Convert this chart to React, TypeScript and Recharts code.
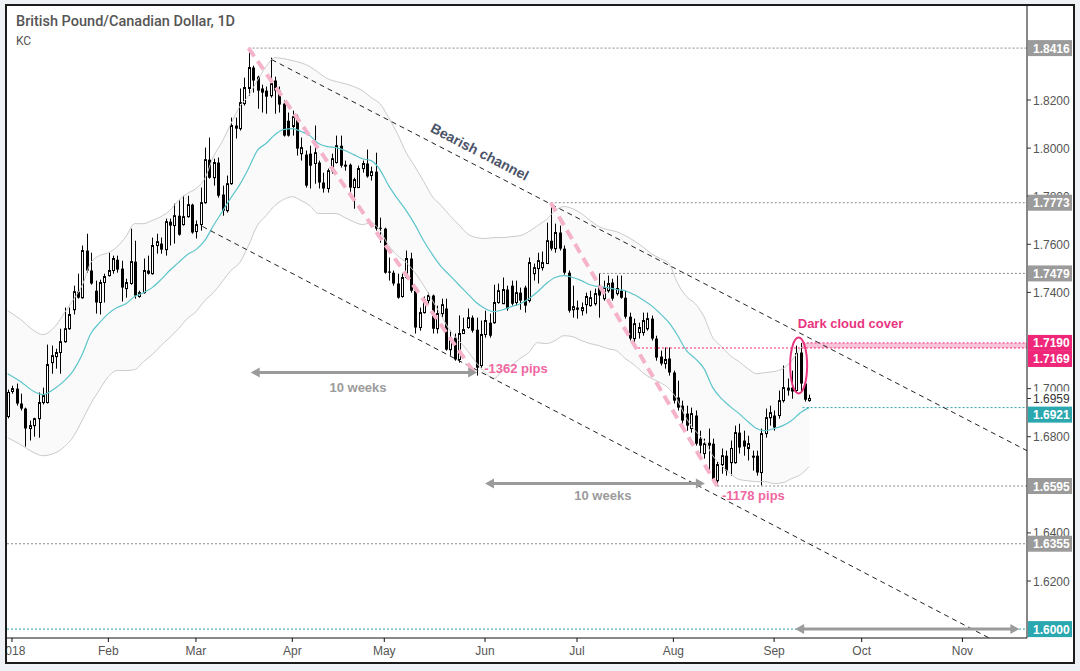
import React from 'react'
import {
  ComposedChart,
  XAxis,
  YAxis,
  Area,
  Line,
  Bar,
  ReferenceLine,
  ReferenceArea,
  ReferenceDot,
} from 'recharts'

// daily bars, first one sits just left of the Jan tick
const firstBar = -1
const ohlc = [
  [1.6884, 1.6996, 1.6876, 1.6984], [1.6988, 1.7012, 1.6979, 1.7000], [1.7000, 1.7021, 1.6929, 1.6938],
  [1.6938, 1.6979, 1.6909, 1.6917], [1.6917, 1.6921, 1.6759, 1.6834], [1.6834, 1.6867, 1.6784, 1.6846],
  [1.6846, 1.6879, 1.6800, 1.6875], [1.6875, 1.6984, 1.6796, 1.6942], [1.6942, 1.7004, 1.6934, 1.6971],
  [1.6942, 1.7183, 1.6938, 1.7100], [1.7108, 1.7179, 1.7062, 1.7137], [1.7133, 1.7166, 1.7083, 1.7150],
  [1.7150, 1.7249, 1.7062, 1.7195], [1.7195, 1.7337, 1.7191, 1.7249], [1.7249, 1.7337, 1.7245, 1.7308],
  [1.7328, 1.7428, 1.7308, 1.7403], [1.7403, 1.7478, 1.7374, 1.7378], [1.7378, 1.7595, 1.7374, 1.7574],
  [1.7574, 1.7644, 1.7482, 1.7491], [1.7491, 1.7565, 1.7432, 1.7437], [1.7407, 1.7449, 1.7312, 1.7358],
  [1.7358, 1.7453, 1.7308, 1.7441], [1.7441, 1.7478, 1.7358, 1.7466], [1.7470, 1.7565, 1.7466, 1.7491],
  [1.7491, 1.7553, 1.7478, 1.7541], [1.7536, 1.7553, 1.7482, 1.7495], [1.7499, 1.7532, 1.7362, 1.7420],
  [1.7416, 1.7457, 1.7378, 1.7441], [1.7437, 1.7665, 1.7432, 1.7528], [1.7528, 1.7615, 1.7374, 1.7387],
  [1.7383, 1.7407, 1.7378, 1.7399], [1.7399, 1.7541, 1.7395, 1.7491], [1.7491, 1.7553, 1.7474, 1.7478],
  [1.7478, 1.7628, 1.7474, 1.7595], [1.7595, 1.7644, 1.7561, 1.7611], [1.7603, 1.7628, 1.7561, 1.7578],
  [1.7578, 1.7707, 1.7553, 1.7694], [1.7694, 1.7707, 1.7595, 1.7678], [1.7678, 1.7769, 1.7603, 1.7719],
  [1.7719, 1.7782, 1.7636, 1.7640], [1.7682, 1.7802, 1.7678, 1.7715], [1.7715, 1.7802, 1.7711, 1.7765],
  [1.7765, 1.7769, 1.7644, 1.7649], [1.7653, 1.7699, 1.7624, 1.7682], [1.7682, 1.7836, 1.7657, 1.7773],
  [1.7773, 1.8002, 1.7769, 1.7952], [1.7952, 1.8044, 1.7873, 1.7877], [1.7877, 1.7956, 1.7844, 1.7940],
  [1.7940, 1.7961, 1.7794, 1.7802], [1.7807, 1.7844, 1.7719, 1.7740], [1.7740, 1.7886, 1.7732, 1.7852],
  [1.7852, 1.8127, 1.7848, 1.8094], [1.8094, 1.8127, 1.8040, 1.8081], [1.8081, 1.8248, 1.8073, 1.8189],
  [1.8185, 1.8293, 1.8177, 1.8252], [1.8248, 1.8416, 1.8218, 1.8335], [1.8335, 1.8343, 1.8231, 1.8281],
  [1.8297, 1.8301, 1.8164, 1.8239], [1.8248, 1.8264, 1.8148, 1.8231], [1.8239, 1.8256, 1.8143, 1.8214],
  [1.8218, 1.8376, 1.8210, 1.8268], [1.8281, 1.8297, 1.8143, 1.8239], [1.8239, 1.8256, 1.8148, 1.8181],
  [1.8185, 1.8198, 1.8048, 1.8052], [1.8114, 1.8148, 1.8048, 1.8052], [1.8090, 1.8156, 1.8052, 1.8131],
  [1.8131, 1.8139, 1.7969, 1.7998], [1.7977, 1.8044, 1.7948, 1.8002], [1.7973, 1.7990, 1.7836, 1.7844],
  [1.7977, 1.8010, 1.7832, 1.7927], [1.7936, 1.8094, 1.7852, 1.7981], [1.7940, 1.7948, 1.7832, 1.7857],
  [1.7857, 1.7898, 1.7815, 1.7832], [1.7832, 1.7915, 1.7815, 1.7906], [1.7906, 1.7977, 1.7894, 1.7956],
  [1.7940, 1.8052, 1.7936, 1.8010], [1.8010, 1.8052, 1.7919, 1.7927], [1.7931, 1.7948, 1.7906, 1.7923],
  [1.7931, 1.7936, 1.7815, 1.7836], [1.7836, 1.7877, 1.7748, 1.7869], [1.7836, 1.7927, 1.7836, 1.7915],
  [1.7915, 1.7948, 1.7898, 1.7936], [1.7936, 1.7994, 1.7877, 1.7882], [1.7886, 1.7923, 1.7865, 1.7902],
  [1.7902, 1.7981, 1.7657, 1.7665], [1.7669, 1.7711, 1.7607, 1.7665], [1.7665, 1.7669, 1.7478, 1.7482],
  [1.7487, 1.7545, 1.7449, 1.7482], [1.7482, 1.7491, 1.7428, 1.7437], [1.7437, 1.7478, 1.7374, 1.7378],
  [1.7383, 1.7478, 1.7378, 1.7462], [1.7462, 1.7574, 1.7457, 1.7541], [1.7541, 1.7565, 1.7399, 1.7407],
  [1.7407, 1.7416, 1.7229, 1.7254], [1.7254, 1.7337, 1.7241, 1.7316], [1.7316, 1.7383, 1.7312, 1.7370],
  [1.7366, 1.7399, 1.7353, 1.7387], [1.7387, 1.7391, 1.7229, 1.7249], [1.7249, 1.7345, 1.7229, 1.7312],
  [1.7312, 1.7374, 1.7295, 1.7349], [1.7333, 1.7374, 1.7158, 1.7162], [1.7162, 1.7241, 1.7137, 1.7212],
  [1.7212, 1.7229, 1.7116, 1.7121], [1.7121, 1.7304, 1.7108, 1.7229], [1.7229, 1.7295, 1.7229, 1.7245],
  [1.7254, 1.7333, 1.7249, 1.7295], [1.7295, 1.7304, 1.7233, 1.7241], [1.7245, 1.7295, 1.7054, 1.7087],
  [1.7096, 1.7283, 1.7087, 1.7225], [1.7225, 1.7324, 1.7212, 1.7283], [1.7274, 1.7312, 1.7212, 1.7220],
  [1.7274, 1.7432, 1.7270, 1.7358], [1.7358, 1.7437, 1.7353, 1.7407], [1.7353, 1.7462, 1.7353, 1.7412],
  [1.7412, 1.7428, 1.7324, 1.7333], [1.7428, 1.7449, 1.7345, 1.7353], [1.7358, 1.7449, 1.7345, 1.7399],
  [1.7399, 1.7420, 1.7328, 1.7366], [1.7420, 1.7428, 1.7316, 1.7345], [1.7366, 1.7545, 1.7358, 1.7524],
  [1.7478, 1.7520, 1.7449, 1.7503], [1.7499, 1.7565, 1.7437, 1.7532], [1.7503, 1.7570, 1.7491, 1.7524],
  [1.7520, 1.7690, 1.7520, 1.7615], [1.7615, 1.7773, 1.7574, 1.7582], [1.7582, 1.7686, 1.7565, 1.7649],
  [1.7649, 1.7678, 1.7574, 1.7582], [1.7582, 1.7595, 1.7474, 1.7482], [1.7482, 1.7491, 1.7316, 1.7324],
  [1.7328, 1.7428, 1.7295, 1.7341], [1.7337, 1.7366, 1.7291, 1.7328], [1.7324, 1.7358, 1.7304, 1.7337],
  [1.7349, 1.7399, 1.7312, 1.7383], [1.7345, 1.7407, 1.7341, 1.7378], [1.7353, 1.7416, 1.7345, 1.7395],
  [1.7428, 1.7479, 1.7295, 1.7387], [1.7374, 1.7449, 1.7366, 1.7420], [1.7407, 1.7470, 1.7399, 1.7437],
  [1.7441, 1.7457, 1.7366, 1.7374], [1.7395, 1.7470, 1.7387, 1.7416], [1.7407, 1.7470, 1.7374, 1.7378],
  [1.7378, 1.7407, 1.7291, 1.7299], [1.7299, 1.7316, 1.7200, 1.7208], [1.7208, 1.7291, 1.7169, 1.7270],
  [1.7233, 1.7274, 1.7208, 1.7254], [1.7233, 1.7316, 1.7220, 1.7283], [1.7249, 1.7316, 1.7241, 1.7291],
  [1.7291, 1.7304, 1.7200, 1.7208], [1.7208, 1.7220, 1.7116, 1.7129], [1.7133, 1.7158, 1.7096, 1.7104],
  [1.7104, 1.7171, 1.7083, 1.7121], [1.7125, 1.7171, 1.7054, 1.7067], [1.7067, 1.7075, 1.6938, 1.6950],
  [1.6963, 1.7033, 1.6909, 1.6921], [1.6929, 1.6950, 1.6834, 1.6867], [1.6896, 1.6929, 1.6825, 1.6846],
  [1.6834, 1.6921, 1.6817, 1.6896], [1.6888, 1.6909, 1.6763, 1.6771], [1.6792, 1.6825, 1.6730, 1.6763],
  [1.6730, 1.6792, 1.6709, 1.6771], [1.6775, 1.6834, 1.6659, 1.6763], [1.6771, 1.6792, 1.6609, 1.6617],
  [1.6617, 1.6696, 1.6595, 1.6684], [1.6684, 1.6751, 1.6646, 1.6721], [1.6721, 1.6742, 1.6638, 1.6659],
  [1.6692, 1.6784, 1.6638, 1.6751], [1.6692, 1.6846, 1.6688, 1.6817], [1.6817, 1.6854, 1.6730, 1.6755],
  [1.6784, 1.6825, 1.6721, 1.6759], [1.6751, 1.6804, 1.6701, 1.6771], [1.6721, 1.6742, 1.6659, 1.6713],
  [1.6721, 1.6742, 1.6638, 1.6651], [1.6651, 1.6834, 1.6597, 1.6813], [1.6813, 1.6917, 1.6796, 1.6879],
  [1.6879, 1.6929, 1.6846, 1.6900], [1.6888, 1.6909, 1.6825, 1.6838], [1.6888, 1.6992, 1.6875, 1.6950],
  [1.6950, 1.7096, 1.6942, 1.7004], [1.7004, 1.7042, 1.6971, 1.6992], [1.7004, 1.7075, 1.6958, 1.6988],
  [1.6992, 1.7179, 1.6984, 1.7146], [1.7150, 1.7190, 1.6984, 1.7021], [1.7021, 1.7029, 1.6946, 1.6954],
  [1.6950, 1.6975, 1.6946, 1.6959],
]

// Keltner channel, read every couple of bars
const kcBar = [
  -1, 2, 5, 7, 10, 12, 14, 16, 18, 20, 22, 24, 26, 28, 30, 32, 34, 36, 38, 40, 42, 44, 46, 48, 50, 52, 54, 56,
  58, 60, 62, 64, 66, 68, 70, 72, 74, 76, 78, 80, 82, 84, 86, 88, 90, 92, 94, 96, 98, 100, 102, 104, 106, 108,
  110, 112, 114, 116, 118, 120, 122, 124, 126, 128, 130, 132, 134, 136, 138, 140, 142, 144, 146, 148, 150, 152,
  154, 156, 158, 160, 162, 164, 166, 168, 170, 172, 174, 176, 178, 180, 182,
]
const kcUpper = [
  1.7324, 1.7287, 1.7241, 1.7225, 1.7262, 1.7316, 1.7370, 1.7428, 1.7524, 1.7553, 1.7565, 1.7590, 1.7632,
  1.7686, 1.7686, 1.7699, 1.7715, 1.7740, 1.7782, 1.7811, 1.7832, 1.7873, 1.7965, 1.8027, 1.8102, 1.8173,
  1.8218, 1.8281, 1.8339, 1.8376, 1.8372, 1.8364, 1.8355, 1.8339, 1.8314, 1.8289, 1.8277, 1.8268, 1.8256,
  1.8239, 1.8210, 1.8185, 1.8127, 1.8060, 1.7981, 1.7923, 1.7861, 1.7798, 1.7761, 1.7719, 1.7682, 1.7644,
  1.7628, 1.7624, 1.7628, 1.7628, 1.7632, 1.7636, 1.7653, 1.7678, 1.7703, 1.7740, 1.7757, 1.7748, 1.7728,
  1.7699, 1.7674, 1.7661, 1.7653, 1.7636, 1.7615, 1.7590, 1.7561, 1.7541, 1.7520, 1.7437, 1.7383, 1.7353,
  1.7299, 1.7212, 1.7175, 1.7137, 1.7112, 1.7083, 1.7062, 1.7067, 1.7071, 1.7083, 1.7116, 1.7166, 1.7191,
]
const kcMid = [
  1.7062, 1.7029, 1.6988, 1.6975, 1.7004, 1.7033, 1.7075, 1.7141, 1.7229, 1.7274, 1.7312, 1.7337, 1.7353,
  1.7383, 1.7399, 1.7420, 1.7453, 1.7491, 1.7524, 1.7557, 1.7578, 1.7615, 1.7678, 1.7736, 1.7794, 1.7848,
  1.7915, 1.7990, 1.8019, 1.8056, 1.8077, 1.8081, 1.8069, 1.8052, 1.8019, 1.8006, 1.8002, 1.7990, 1.7973,
  1.7956, 1.7948, 1.7911, 1.7844, 1.7790, 1.7740, 1.7682, 1.7615, 1.7557, 1.7507, 1.7470, 1.7432, 1.7395,
  1.7358, 1.7333, 1.7320, 1.7328, 1.7341, 1.7353, 1.7374, 1.7403, 1.7437, 1.7462, 1.7470, 1.7462, 1.7449,
  1.7432, 1.7424, 1.7420, 1.7412, 1.7407, 1.7391, 1.7370, 1.7345, 1.7312, 1.7274, 1.7220, 1.7158, 1.7125,
  1.7083, 1.7004, 1.6958, 1.6925, 1.6896, 1.6863, 1.6834, 1.6825, 1.6834, 1.6846, 1.6867, 1.6900, 1.6921,
]
const kcLower = [
  1.6796, 1.6767, 1.6734, 1.6721, 1.6734, 1.6759, 1.6800, 1.6867, 1.6938, 1.6996, 1.7050, 1.7075, 1.7075,
  1.7079, 1.7112, 1.7141, 1.7179, 1.7212, 1.7249, 1.7291, 1.7320, 1.7366, 1.7399, 1.7445, 1.7491, 1.7524,
  1.7595, 1.7678, 1.7719, 1.7761, 1.7786, 1.7798, 1.7782, 1.7761, 1.7728, 1.7728, 1.7728, 1.7711, 1.7694,
  1.7682, 1.7690, 1.7657, 1.7595, 1.7553, 1.7524, 1.7482, 1.7428, 1.7366, 1.7304, 1.7241, 1.7200, 1.7158,
  1.7108, 1.7067, 1.7042, 1.7075, 1.7096, 1.7125, 1.7150, 1.7191, 1.7187, 1.7200, 1.7220, 1.7216, 1.7200,
  1.7187, 1.7179, 1.7166, 1.7158, 1.7125, 1.7100, 1.7067, 1.7042, 1.7025, 1.7000, 1.6950, 1.6875, 1.6825,
  1.6784, 1.6721, 1.6680, 1.6647, 1.6622, 1.6617, 1.6613, 1.6613, 1.6605, 1.6609, 1.6626, 1.6642, 1.6676,
]

const monthTicks = [0, 22, 42, 64, 85, 108, 129, 151, 174, 194, 217]
const monthLabels = ['2018', 'Feb', 'Mar', 'Apr', 'May', 'Jun', 'Jul', 'Aug', 'Sep', 'Oct', 'Nov']

// 1.84, 1.72 and 1.66 sit fully under the level badges, so they are left out
const priceTicks = [1.62, 1.64, 1.68, 1.7, 1.74, 1.76, 1.78, 1.8, 1.82]
const lastPrice = 1.6959
// [from bar, price]
const grayLevels = [[54, 1.8416], [123, 1.7773], [134, 1.7479], [161, 1.6595], [-1.14, 1.6355]]
const pinkLevels = [[180.5, 1.719], [142, 1.7169]]
const tealLevels = [[180.5, 1.6921], [-1.14, 1.6]]

const channelUpper = [[59.3, 1.8368], [231.74, 1.6742]]
const channelLower = [[43.5, 1.7674], [223.1, 1.5963]]
const moveLines = [
  [[54, 1.8416], [106, 1.7054]],
  [[123, 1.7773], [161, 1.6595]],
]
const moveLabels = [[107.8, 1.7083, '-1362 pips'], [162.1, 1.6555, '-1178 pips']]
// [from bar, to bar, price]
const spanArrows = [[54.5, 106.2, 1.7067], [108, 158.2, 1.6605], [178.8, 230, 1.6]]
const spanLabels = [[79, 1.7004, '10 weeks'], [134.9, 1.6555, '10 weeks']]
const patternMark = [179.6, 1.7096]
const patternLabel = [179.4, 1.727, 'Dark cloud cover']
const channelLabel = [106.8, 1.7985, 'Bearish channel']

const xDomain = [-1.14, 231.74]
const yDomain = [1.5963, 1.8591]

const AXIS_FONT = '"Liberation Sans", Arial, sans-serif'
const GRAY = '#9b9b9b'
const PINK = '#f02679'
const TEAL = '#2aa7af'

const kcIndex = new Map(kcBar.map((b, k) => [b, k]))
const rows = ohlc.map(([o, h, l, c], k) => {
  const i = firstBar + k
  const kk = kcIndex.get(i)
  const has = kk !== undefined
  return {
    i, o, h, l, c,
    range: [l, h],
    up: has ? kcUpper[kk] : null,
    mid: has ? kcMid[kk] : null,
    lo: has ? kcLower[kk] : null,
    band: has ? [kcLower[kk], kcUpper[kk]] : [null, null],
  }
})

function Candle(props: any) {
  const { x, y, width, height, payload } = props
  if (!payload || height == null) return null
  const { o, h, l, c } = payload
  const top = Math.min(y, y + height)
  const span = Math.abs(height)
  const py = (v: number) => top + ((h - v) / (h - l || 1)) * span
  const px = Math.round(x + width / 2)
  const bTop = py(Math.max(o, c))
  const bBot = py(Math.min(o, c))
  const up = c >= o
  return (
    <g>
      <line x1={px + 0.5} x2={px + 0.5} y1={top} y2={top + span} stroke="#000" strokeWidth={1} />
      {up ? (
        <rect x={px - 0.5} y={bTop} width={2} height={Math.max(bBot - bTop, 1)} fill="#fff" stroke="#000" strokeWidth={1} />
      ) : (
        <rect x={px - 1} y={bTop} width={3} height={Math.max(bBot - bTop, 1)} fill="#000" />
      )}
    </g>
  )
}

const badgeColor = (v: number) => {
  if (grayLevels.some((d) => d[1] === v)) return GRAY
  if (pinkLevels.some((d) => d[1] === v)) return PINK
  if (tealLevels.some((d) => d[1] === v)) return TEAL
  return null
}
// labels pushed down so they do not sit on top of each other
const badgeNudge: Record<string, number> = { '1.7169': 11, '1.6921': 7 }

function PriceTick(props: any) {
  const { x, y, payload } = props
  const v = payload.value
  const label = v.toFixed(4)
  const color = badgeColor(v)
  if (color) {
    const cy = y + (badgeNudge[label] || 0)
    return (
      <g>
        <rect x={x + 1} y={cy - 8} width={44} height={16} fill={color} />
        <text x={x + 6} y={cy + 4.5} fill="#fff" fontSize={12} fontWeight="bold" fontFamily={AXIS_FONT}>
          {label}
        </text>
      </g>
    )
  }
  const isLast = v === lastPrice
  return (
    <g>
      {isLast && <rect x={x + 1} y={y - 7} width={45} height={14} fill="#fff" />}
      <line x1={x} x2={x + 4} y1={y} y2={y} stroke="#333" />
      <text x={x + 6} y={y + 4.5} fill={isLast ? '#333' : '#555'} fontSize={12} fontFamily={AXIS_FONT}>
        {label}
      </text>
    </g>
  )
}

function SpanArrow(props: any) {
  const { x1, y1, x2 } = props
  const head = 9
  const half = 5
  return (
    <g>
      <line x1={x1 + head - 1} x2={x2 - head + 1} y1={y1} y2={y1} stroke={GRAY} strokeWidth={3} />
      <polygon points={`${x1},${y1} ${x1 + head},${y1 - half} ${x1 + head},${y1 + half}`} fill={GRAY} />
      <polygon points={`${x2},${y1} ${x2 - head},${y1 - half} ${x2 - head},${y1 + half}`} fill={GRAY} />
    </g>
  )
}

const textShape = (text: string, fill: string, anchor: string) => (p: any) => (
  <text
    x={p.cx}
    y={p.cy}
    fill={fill}
    fontSize={13}
    fontWeight="bold"
    fontFamily={AXIS_FONT}
    textAnchor={anchor}
    dominantBaseline="central"
  >
    {text}
  </text>
)

export default function App() {
  const slope = Math.atan2(0.517, 1) * (180 / Math.PI)
  return (
    <div style={{ position: 'absolute', left: 0, top: 0, width: 1080, height: 671, background: '#eef1f5' }}>
      <div
        style={{
          position: 'absolute',
          left: 5,
          top: 4,
          width: 1066,
          height: 656,
          border: '2px solid #1c1c1c',
          background: '#fff',
        }}
      >
        <ComposedChart width={1066} height={656} data={rows} margin={{ top: 0, right: 0, bottom: 0, left: 0 }}>
          <XAxis
            dataKey="i"
            type="number"
            domain={xDomain}
            allowDataOverflow
            ticks={monthTicks}
            interval={0}
            tickFormatter={(v) => monthLabels[monthTicks.indexOf(v)]}
            height={24}
            stroke="#111"
            tickSize={4}
            tickMargin={4}
            tick={{ fill: '#555', fontSize: 12, fontFamily: AXIS_FONT }}
          />
          <YAxis
            orientation="right"
            type="number"
            domain={yDomain}
            allowDataOverflow
            width={46}
            ticks={[...priceTicks, lastPrice, ...grayLevels.map((d) => d[1]), ...pinkLevels.map((d) => d[1]), ...tealLevels.map((d) => d[1])]}
            interval={0}
            tick={PriceTick}
            tickLine={false}
            tickSize={0}
            tickMargin={0}
            stroke="#111"
          />
          <Area
            dataKey="band"
            type="monotone"
            stroke="none"
            fill="#f4f4f4"
            fillOpacity={0.45}
            connectNulls
            isAnimationActive={false}
          />
          <Line dataKey="up" type="monotone" stroke="#cacaca" strokeWidth={1} dot={false} connectNulls isAnimationActive={false} />
          <Line dataKey="lo" type="monotone" stroke="#cacaca" strokeWidth={1} dot={false} connectNulls isAnimationActive={false} />
          <Line dataKey="mid" type="monotone" stroke="#5cc5cb" strokeWidth={1.2} dot={false} connectNulls isAnimationActive={false} />

          <ReferenceArea x1={pinkLevels[0][0]} x2={xDomain[1]} y1={pinkLevels[1][1]} y2={pinkLevels[0][1]} fill="#f9c4d9" fillOpacity={1} stroke="none" />
          {grayLevels.map(([from, v]) => (
            <ReferenceLine key={'g' + v} segment={[{ x: from, y: v }, { x: xDomain[1], y: v }]} stroke="#8a8a8a" strokeDasharray="2 2" />
          ))}
          {pinkLevels.map(([from, v]) => (
            <ReferenceLine key={'p' + v} segment={[{ x: from, y: v }, { x: xDomain[1], y: v }]} stroke={PINK} strokeDasharray="2 2" />
          ))}
          {tealLevels.map(([from, v]) => (
            <ReferenceLine key={'t' + v} segment={[{ x: from, y: v }, { x: xDomain[1], y: v }]} stroke={TEAL} strokeDasharray="2 2" />
          ))}
          <ReferenceLine
            segment={channelUpper.map(([x, y]) => ({ x, y }))}
            stroke="#222"
            strokeDasharray="5 4"
          />
          <ReferenceLine
            segment={channelLower.map(([x, y]) => ({ x, y }))}
            stroke="#222"
            strokeDasharray="5 4"
          />

          <Bar dataKey="range" shape={Candle} barSize={3} isAnimationActive={false} />

          {moveLines.map((seg, k) => (
            <ReferenceLine
              key={'m' + k}
              segment={seg.map(([x, y]) => ({ x, y }))}
              stroke="#f4b3cb"
              strokeWidth={4}
              strokeDasharray="10 6"
            />
          ))}
          {spanArrows.map(([a, b, v], k) => (
            <ReferenceLine key={'a' + k} segment={[{ x: a, y: v }, { x: b, y: v }]} shape={SpanArrow} />
          ))}
          {spanLabels.map(([x, y, t], k) => (
            <ReferenceDot key={'s' + k} x={x as number} y={y as number} r={1} shape={textShape(t as string, '#9b9b9b', 'middle')} />
          ))}
          {moveLabels.map(([x, y, t], k) => (
            <ReferenceDot key={'l' + k} x={x as number} y={y as number} r={1} shape={textShape(t as string, '#ef67a0', 'start')} />
          ))}
          <ReferenceDot
            x={patternLabel[0] as number}
            y={patternLabel[1] as number}
            r={1}
            shape={textShape(patternLabel[2] as string, '#e8357f', 'start')}
          />
          <ReferenceDot
            x={channelLabel[0] as number}
            y={channelLabel[1] as number}
            r={1}
            shape={(p: any) => (
              <text
                x={p.cx}
                y={p.cy}
                fill="#4b5368"
                fontSize={14}
                fontWeight="bold"
                fontFamily={AXIS_FONT}
                textAnchor="middle"
                dominantBaseline="central"
                transform={`rotate(${slope.toFixed(1)} ${p.cx} ${p.cy})`}
              >
                {channelLabel[2]}
              </text>
            )}
          />
          <ReferenceDot
            x={patternMark[0]}
            y={patternMark[1]}
            r={1}
            shape={(p: any) => (
              <ellipse cx={p.cx} cy={p.cy} rx={8.5} ry={28} fill="none" stroke="#e8357f" strokeWidth={2} />
            )}
          />
        </ComposedChart>
        <div
          style={{
            position: 'absolute',
            left: 9,
            top: 8,
            fontFamily: 'Roboto, sans-serif',
            fontSize: 14.5,
            fontWeight: 500,
            color: '#555',
            lineHeight: '16px',
            whiteSpace: 'nowrap',
          }}
        >
          British Pound/Canadian Dollar, 1D
        </div>
        <div
          style={{
            position: 'absolute',
            left: 9,
            top: 28,
            fontFamily: 'Roboto, sans-serif',
            fontSize: 12,
            color: '#555',
            lineHeight: '14px',
          }}
        >
          KC
        </div>
      </div>
    </div>
  )
}
